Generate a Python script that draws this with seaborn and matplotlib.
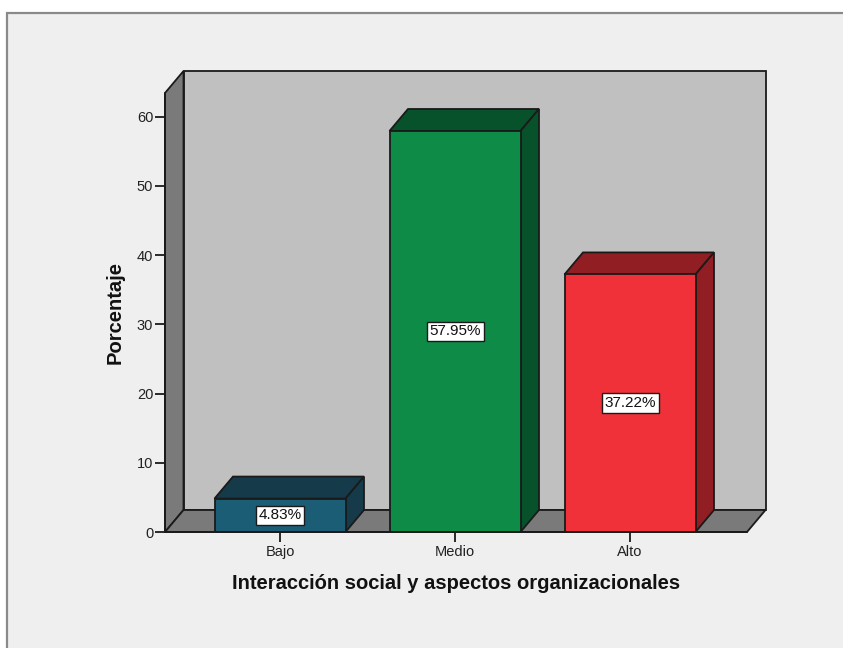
import matplotlib
matplotlib.use("Agg")
import matplotlib.pyplot as plt
from matplotlib.patches import Polygon, Rectangle
from matplotlib.lines import Line2D
import seaborn as sns
import pandas as pd

# Data
categories = ["Bajo", "Medio", "Alto"]
percentages = [4.83, 57.95, 37.22]
front_colors = ["#1c5d76", "#0e8b47", "#f0313a"]
shade_colors = ["#153a49", "#07522a", "#911e22"]
yticks = [0, 10, 20, 30, 40, 50, 60]
xlabel = "Interacción social y aspectos organizacionales"
ylabel = "Porcentaje"

df = pd.DataFrame({"cat": categories, "pct": percentages})

sns.set_theme(style="white")
plt.rcParams["font.family"] = ["Liberation Sans", "DejaVu Sans"]

W, H = 843, 648
fig = plt.figure(figsize=(W / 100, H / 100), dpi=100)
fig.patch.set_facecolor("white")

# Outer panel
panel = Rectangle((7 / W, -0.05), 1.1, 1.05 - 13 / H, transform=fig.transFigure,
                  facecolor="#efefef", edgecolor="#8a8a8a", linewidth=1.6,
                  zorder=-10)
fig.patches.append(panel)

# Axes placement in pixels
px_left, px_right, px_bottom, px_top = 165, 766, 532, 72
ax = fig.add_axes([px_left / W, 1 - px_bottom / H,
                   (px_right - px_left) / W, (px_bottom - px_top) / H])
ax.set_facecolor("none")

px_per_cat = 175.0
px_per_unit = 6.92
x0 = -(280 - 165) / px_per_cat           # front-left edge of the floor
x1 = (747 - 280) / px_per_cat            # front-right edge of the floor
dx = 18.5 / px_per_cat                   # depth offset (x)
dy = 22.0 / px_per_unit                  # depth offset (y)
ytop = (532 - 93) / px_per_unit          # top of the front edge of the wall
bar_w = 131 / px_per_cat
xmax = x0 + (px_right - px_left) / px_per_cat
ymax = (px_bottom - px_top) / px_per_unit

edge = "#1a1a1a"
lw = 1.3

# Back wall, left wall, floor
ax.add_patch(Polygon([(x0 + dx, dy), (x1 + dx, dy), (x1 + dx, ytop + dy),
                      (x0 + dx, ytop + dy)], closed=True, facecolor="#c0c0c0",
                     edgecolor=edge, linewidth=lw, zorder=1, clip_on=False))
ax.add_patch(Polygon([(x0, 0), (x0 + dx, dy), (x0 + dx, ytop + dy), (x0, ytop)],
                     closed=True, facecolor="#7a7a7a", edgecolor=edge,
                     linewidth=lw, zorder=1, clip_on=False))
ax.add_patch(Polygon([(x0, 0), (x1, 0), (x1 + dx, dy), (x0 + dx, dy)],
                     closed=True, facecolor="#7a7a7a", edgecolor=edge,
                     linewidth=lw, zorder=1, clip_on=False))

# Front faces of the bars
sns.barplot(data=df, x="cat", y="pct", hue="cat", palette=front_colors,
            width=bar_w, edgecolor=edge, linewidth=lw, legend=False, ax=ax,
            saturation=1, zorder=4)

# Top and side faces, plus value labels
for i, (v, sc) in enumerate(zip(percentages, shade_colors)):
    l, r = i - bar_w / 2, i + bar_w / 2
    ax.add_patch(Polygon([(l, v), (r, v), (r + dx, v + dy), (l + dx, v + dy)],
                         closed=True, facecolor=sc, edgecolor=edge,
                         linewidth=lw, zorder=3, clip_on=False))
    ax.add_patch(Polygon([(r, 0), (r + dx, dy), (r + dx, v + dy), (r, v)],
                         closed=True, facecolor=sc, edgecolor=edge,
                         linewidth=lw, zorder=3, clip_on=False))
    ax.text(i, v / 2, f"{v:.2f}%", ha="center", va="center", fontsize=11,
            color="#111111", zorder=6,
            bbox=dict(boxstyle="square,pad=0.18", facecolor="white",
                      edgecolor=edge, linewidth=1.0))

ax.set_xlim(x0, xmax)
ax.set_ylim(0, ymax)

# Front axis lines
ax.add_line(Line2D([x0, x1], [0, 0], color=edge, linewidth=lw, zorder=5,
                   clip_on=False))
ax.add_line(Line2D([x0, x0], [0, ytop], color=edge, linewidth=lw, zorder=5,
                   clip_on=False))

for s in ax.spines.values():
    s.set_visible(False)

ax.set_yticks(yticks)
ax.set_yticklabels([str(t) for t in yticks])
ax.set_xticks(range(len(categories)))
ax.set_xticklabels(categories)
ax.tick_params(axis="both", which="both", direction="out", length=7,
               width=1.3, color="#1a1a1a", labelsize=10.5, labelcolor="#222222",
               left=True, bottom=True, pad=1.5)
ax.tick_params(axis="x", length=7, pad=2.5)

ax.set_xlabel(xlabel, fontsize=14.5, fontweight="bold", color="#111111",
              labelpad=11)
ax.set_ylabel(ylabel, fontsize=14.5, fontweight="bold", color="#111111",
              labelpad=9)
# Center the titles on the front frame rather than the whole box
ax.xaxis.label.set_x(((x0 + x1) / 2 - x0) / (xmax - x0))
ax.yaxis.label.set_y((ytop / 2) / ymax)

fig.savefig("out.png", dpi=100)
